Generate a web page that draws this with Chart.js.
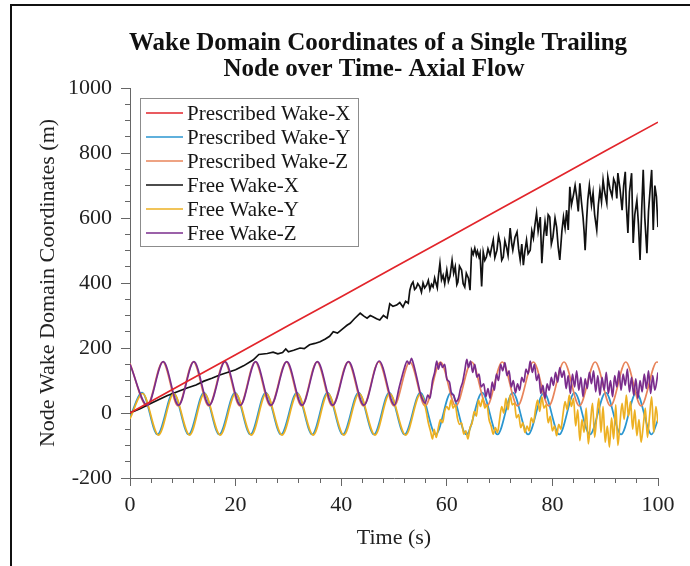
<!DOCTYPE html>
<html>
<head>
<meta charset="utf-8">
<script src="https://cdn.jsdelivr.net/npm/chart.js@4/dist/chart.umd.min.js"></script>
<style>
  html, body { margin: 0; padding: 0; background: #fff; }
  #wrap { position: relative; width: 690px; height: 566px; overflow: hidden; }
  #frame { position: absolute; left: 10px; top: 4px; right: -4px; bottom: -4px; border-top: 2px solid #111; border-left: 2px solid #111; pointer-events: none; }
</style>
</head>
<body>
<div id="wrap">
  <canvas id="wake-chart" width="690" height="566"></canvas>
  <div id="frame"></div>
</div>
<script>
const titleLines = ['Wake Domain Coordinates of a Single Trailing', 'Node over Time- Axial Flow'];
const xTitle = 'Time (s)';
const yTitle = 'Node Wake Domain Coordinates (m)';
const seriesNames = ['Prescribed Wake-X', 'Prescribed Wake-Y', 'Prescribed Wake-Z', 'Free Wake-X', 'Free Wake-Y', 'Free Wake-Z'];
const seriesColors = ['#e2252b', '#2a96d0', '#e8845a', '#111111', '#edb022', '#7a2c8c'];

// prescribed wake
const prescXTime = [0, 10, 20, 30, 40, 50, 60, 70, 80, 90, 100];
const prescXVal = [0, 90, 179, 269, 358, 448, 537, 627, 716, 806, 895];

const prescYTime = [0, 2.3, 5.2, 8.2, 11.1, 14.0, 16.9, 19.9, 22.8, 25.7, 28.6, 31.6, 34.5, 37.4, 40.3, 43.3, 46.2, 49.1,
  52.0, 55.0, 57.9, 60.8, 63.7, 66.7, 69.6, 72.5, 75.4, 78.4, 81.3, 84.2, 87.1, 90.1, 93.0, 95.9, 98.8, 100];
const prescYVal = [-12, 63, -66, 63, -66, 63, -66, 63, -66, 63, -66, 63, -66, 63, -66, 63, -66, 63,
  -66, 63, -66, 63, -66, 63, -66, 63, -66, 63, -66, 63, -66, 63, -66, 63, -66, -20];

const prescZTime = [0, 3.2, 6.2, 9.1, 12.0, 14.9, 17.9, 20.8, 23.7, 26.6, 29.6, 32.5, 35.4, 38.3, 41.3, 44.2, 47.1, 50.0,
  53.0, 55.9, 58.8, 61.7, 64.7, 67.6, 70.5, 73.4, 76.4, 79.3, 82.2, 85.1, 88.1, 91.0, 93.9, 96.8, 99.8, 100];
const prescZVal = [152, 22, 157, 22, 157, 22, 157, 22, 157, 22, 157, 22, 157, 22, 157, 22, 157, 22,
  157, 22, 157, 22, 157, 22, 157, 22, 157, 22, 157, 22, 157, 22, 157, 22, 157, 156];

// free wake
const freeXTime = [0, 2, 4.4, 7, 10.8, 12.5, 14, 15.5, 17, 20, 21.5, 23.3, 24.4, 26, 27.1, 28, 28.9, 29.5, 30, 31, 32.2, 33, 34, 35, 36,
  37, 37.8, 38.5, 39.3, 40.5, 41.1, 41.7, 42.5, 43.6, 44.3, 44.9, 45.5, 46.0, 46.7, 47.3, 48.0, 48.7, 49.2, 49.8, 50.5, 51.1, 51.7,
  52.2, 52.7,
  53.0, 53.3, 53.6, 53.9, 54.2, 54.5, 54.9, 55.2, 55.5, 55.8, 56.2, 56.5, 56.8, 57.1, 57.4, 57.7, 57.9, 58.2, 58.4, 58.7,
  59.0, 59.3, 59.6, 60.0, 60.3, 60.6, 61.0, 61.3, 61.6, 61.9, 62.1, 62.4, 62.8, 63.1, 63.4, 63.7, 64.1, 64.4, 64.7, 65.0,
  65.3, 65.6, 65.8, 66.1, 66.3, 66.6, 66.9, 67.2, 67.5, 67.8, 68.2, 68.5, 68.8, 69.1, 69.5, 69.8, 70.1, 70.4, 70.7, 71.0,
  71.3, 71.6, 72.0, 72.3, 72.5, 72.9, 73.3, 73.6, 73.9, 74.2, 74.5, 74.8, 75.1, 75.4, 75.8, 76.1, 76.4, 76.7, 77.0, 77.3,
  77.7, 78.0, 78.3, 78.6, 78.9, 79.2, 79.5, 79.8, 80.1, 80.5, 80.8, 81.1, 81.4, 81.8, 82.1, 82.4, 82.7, 83.0, 83.3, 83.6,
  84.0, 84.3, 84.6, 84.9, 85.2, 85.5, 85.8, 86.0, 86.2, 86.5, 86.7, 87.0, 87.4, 87.7, 88.0, 88.4, 88.7, 89.0, 89.3, 89.6,
  89.9, 90.3, 90.5, 90.9, 91.3, 91.6, 91.9, 92.2, 92.4, 92.8, 93.2, 93.5, 93.8, 94.0, 94.3, 94.6, 95.0, 95.3, 95.6, 96.0,
  96.3, 96.6, 96.9, 97.2, 97.5, 97.9, 98.2, 98.5, 98.8, 99.1, 99.4, 99.7, 100];
const freeXVal = [0, 14, 33, 53, 77, 86, 98, 107, 117, 133, 145, 163, 180, 183, 187, 182, 186, 197, 188, 193, 200, 198, 210, 214, 219,
  228, 236, 250, 246, 262, 270, 276, 290, 307, 298, 292, 300, 296, 290, 286, 300, 292, 336, 328, 332, 340, 326,
  344, 338,
  378, 395, 403, 380, 385, 398, 388, 372, 400, 385, 394, 408, 380, 396, 388, 415, 402, 385, 420, 461,
  410, 424, 398, 440, 405, 420, 470, 430, 450, 395, 403, 452, 440, 398, 388, 430, 415, 378, 501, 488,
  507, 485, 498, 480, 492, 389, 495, 470, 480, 505, 486, 510, 532, 478, 501, 545, 523, 470, 480, 530,
  511, 485, 569, 520, 501, 540, 557, 505, 471, 520, 455, 500, 532, 490, 501, 560, 538, 580, 615, 560,
  603, 461, 540, 588, 545, 610, 603, 520, 541, 600, 572, 510, 471, 560, 603, 570, 624, 563, 696, 640,
  672, 700, 666, 620, 707, 650, 603, 560, 501, 600, 655, 700, 640, 677, 610, 563, 640, 686, 650, 717,
  680, 646, 726, 690, 666, 720, 707, 660, 738, 690, 624, 700, 742, 640, 554, 680, 738, 523, 610, 655,
  580, 471, 620, 748, 600, 492, 620, 686, 748, 563, 700, 666, 572];

const freeYTime = [0, 2.4, 5.4, 8.3, 11.3, 14.1, 17.1, 20.0, 23.0, 25.8, 28.8, 31.7, 34.7, 37.5, 40.5, 43.4, 46.4, 49.2, 52.2, 55.0,
  55.6, 56.1, 56.5, 56.9, 57.3, 57.6, 58.0, 58.4, 58.8, 59.2, 59.6, 60.0, 60.4, 60.8, 61.2, 61.6, 62.0, 62.4, 62.8, 63.2, 63.6,
  64.0, 64.4, 64.8, 65.2, 65.6, 66.0, 66.4, 66.8, 67.2, 67.6, 68.0, 68.4, 68.8, 69.2, 69.6, 70.0, 70.4, 70.8, 71.2, 71.6, 72.0,
  72.4, 72.8, 73.2, 73.6, 74.0, 74.4, 74.8, 75.2, 75.6, 76.0, 76.4, 76.8, 77.2, 77.6, 78.0, 78.4, 78.8, 79.2, 79.6, 80.0, 80.4,
  80.8, 81.2, 81.6, 82.0, 82.4, 82.8, 83.2, 83.6, 84.0, 84.4, 84.8, 85.2, 85.6, 86.0, 86.4, 86.8, 87.2, 87.6, 88.0, 88.4, 88.8,
  89.2, 89.6, 90.0, 90.4, 90.8, 91.2, 91.6, 92.0, 92.4, 92.8, 93.2, 93.6, 94.0, 94.4, 94.8, 95.2, 95.6, 96.0, 96.4, 96.8, 97.2,
  97.6, 98.0, 98.4, 98.8, 99.2, 99.6, 100];
const freeYVal = [-18, 60, -68, 60, -68, 60, -68, 60, -68, 60, -68, 60, -68, 60, -68, 60, -68, 60, -68, 58,
  40, 5, -30, -55, -80, -50, -75, -45, -20, -30, 5, 20, 10, 40, 15, 25, -15, -35, -30, -65, -55,
  -80, -45, -30, 5, -10, 40, 20, 45, 15, 25, -20, -40, -65, -45, -60, -20, 20, 0, 45, 10, 55,
  25, 30, -15, -5, -45, -30, -60, -40, -55, -15, -30, 10, 40, 5, 50, 15, 25, -30, -10, -55, -40,
  -70, -35, -50, -5, 35, 10, 55, 20, 45, -40, 10, -85, -20, -60, 15, -95, -30, 30, -75, -10, 45,
  -60, 20, -90, -40, -105, -15, -80, 25, -100, -30, 30, -20, 55, -10, 35, -50, 10, -70, -20, -90, -40,
  15, -75, -10, 50, -60, 20, -30];

const freeZTime = [0, 3.3, 6.3, 9.2, 12.1, 15.0, 18.0, 20.9, 23.8, 26.7, 29.7, 32.6, 35.5, 38.4, 41.4, 44.3, 47.2, 50.1,
  51.0, 52.0, 52.5, 52.9, 53.3, 53.7, 54.3, 55.0, 55.5, 55.9, 56.4, 56.8, 57.3, 57.7, 58.1, 58.4, 58.8, 59.2, 59.6, 60.0,
  60.5, 60.9, 61.3, 61.7, 62.2, 62.6, 63.0, 63.4, 63.8, 64.1, 64.5, 64.9, 65.3, 65.7, 66.1, 66.5, 67.0, 67.4, 67.8, 68.2,
  68.6, 69.0, 69.4, 69.8, 70.2, 70.6, 71.0, 71.4, 71.8, 72.2, 72.6, 73.0, 73.4, 73.8, 74.2, 74.6, 75.0, 75.4, 75.8, 76.2,
  76.6, 77.0, 77.4, 77.8, 78.2, 78.6, 79.0, 79.4, 79.8, 80.2, 80.6, 81.0, 81.4, 81.8, 82.2, 82.6, 83.0, 83.4, 83.8, 84.2,
  84.6, 85.0, 85.4, 85.8, 86.2, 86.6, 87.0, 87.4, 87.8, 88.2, 88.6, 89.0, 89.4, 89.8, 90.2, 90.6, 91.0, 91.4, 91.8, 92.2,
  92.6, 93.0, 93.4, 93.8, 94.2, 94.6, 95.0, 95.4, 95.8, 96.2, 96.6, 97.0, 97.4, 97.8, 98.2, 98.6, 99.0, 99.4, 100];
const freeZVal = [150, 24, 158, 24, 158, 24, 158, 24, 158, 24, 158, 24, 158, 24, 158, 24, 160, 24,
  80, 140, 160, 150, 168, 150, 110, 60, 38, 30, 55, 45, 100, 125, 160, 135, 155, 140, 150, 105,
  95, 60, 55, 35, 45, 75, 95, 130, 165, 140, 160, 125, 150, 110, 120, 80, 90, 50, 75, 45,
  95, 70, 120, 100, 150, 130, 155, 115, 130, 80, 100, 62, 90, 70, 110, 95, 135, 120, 160, 125,
  150, 100, 120, 60, 85, 45, 90, 70, 110, 85, 125, 95, 140, 110, 130, 75, 115, 60, 120, 80,
  130, 70, 110, 50, 105, 75, 125, 90, 130, 65, 115, 55, 110, 70, 125, 60, 100, 50, 115, 80,
  130, 70, 120, 85, 135, 65, 110, 55, 105, 45, 100, 65, 120, 75, 130, 60, 115, 70, 125];

// tick values that carry a label
const xLabelTicks = [0, 20, 40, 60, 80, 100];
const yLabelTicks = [-200, 0, 200, 400, 600, 800, 1000];

const pts = (ts, vs) => ts.map((t, i) => ({ x: t, y: vs[i] }));
const serif = "'Liberation Serif', 'Times New Roman', serif";

const titlePlugin = {
    id: 'titlePlugin',
    afterDraw(chart) {
        const ctx = chart.ctx;
        ctx.save();
        ctx.font = 'bold 25px ' + serif;
        ctx.fillStyle = '#111';
        ctx.textAlign = 'center';
        ctx.textBaseline = 'middle';
        ctx.fillText(titleLines[0], 378, 44);
        ctx.fillText(titleLines[1], 374, 70);
        ctx.restore();
    }
};

const legendPlugin = {
    id: 'legendPlugin',
    afterDatasetsDraw(chart) {
        const ctx = chart.ctx;
        const bx = 140, by = 98, bw = 218, bh = 148;
        ctx.save();
        ctx.fillStyle = '#fff';
        ctx.fillRect(bx, by, bw, bh);
        ctx.strokeStyle = '#8c8c8c';
        ctx.lineWidth = 1;
        ctx.strokeRect(bx + 0.5, by + 0.5, bw, bh);
        ctx.font = '21px ' + serif;
        ctx.textBaseline = 'middle';
        chart.data.datasets.forEach((ds, i) => {
            const cy = by + 15 + i * 24;
            ctx.strokeStyle = ds.borderColor;
            ctx.lineWidth = 1.5;
            ctx.beginPath();
            ctx.moveTo(bx + 6, cy);
            ctx.lineTo(bx + 43, cy);
            ctx.stroke();
            ctx.fillStyle = '#151515';
            ctx.fillText(ds.label, bx + 47, cy + 1);
        });
        ctx.restore();
    }
};

const allTimes = [prescXTime, prescYTime, prescZTime, freeXTime, freeYTime, freeZTime];
const allVals = [prescXVal, prescYVal, prescZVal, freeXVal, freeYVal, freeZVal];
const drawOrder = [0, 5, 4, 3, 2, 1];

const datasets = seriesNames.map((name, i) => ({
    label: name,
    data: pts(allTimes[i], allVals[i]),
    borderColor: seriesColors[i],
    backgroundColor: 'transparent',
    borderWidth: 1.7,
    pointRadius: 0,
    fill: false,
    order: drawOrder[i],
    tension: 0,
    cubicInterpolationMode: (i === 1 || i === 2 || i === 4 || i === 5) ? 'monotone' : 'default'
}));

const isMinor = (v, labels) => !labels.some(l => Math.abs(l - v) < 1e-6);

new Chart(document.getElementById('wake-chart').getContext('2d'), {
    type: 'line',
    data: { datasets: datasets },
    options: {
        responsive: false,
        animation: false,
        events: [],
        layout: { padding: { left: 0, top: 88, right: 32, bottom: 8 } },
        plugins: {
            legend: { display: false },
            tooltip: { enabled: false },
            title: { display: false }
        },
        scales: {
            x: {
                type: 'linear',
                min: 0,
                max: 100,
                afterFit: scale => { scale.height = 80; },
                ticks: {
                    stepSize: 4,
                    autoSkip: false,
                    maxRotation: 0,
                    padding: 6,
                    color: '#222',
                    font: { family: serif, size: 22 },
                    callback: v => isMinor(v, xLabelTicks) ? '' : String(v)
                },
                grid: {
                    drawOnChartArea: false,
                    drawTicks: true,
                    tickLength: 8,
                    tickColor: '#666',
                    tickBorderDash: ctx => isMinor(ctx.tick.value, xLabelTicks) ? [4, 8] : [],
                    tickBorderDashOffset: 0
                },
                border: { display: true, color: '#666', width: 1 },
                title: {
                    display: true,
                    text: xTitle,
                    color: '#222',
                    font: { family: serif, size: 22, lineHeight: 1.2 },
                    padding: { top: 0, bottom: 7 }
                }
            },
            y: {
                type: 'linear',
                min: -200,
                max: 1000,
                afterFit: scale => { scale.width = 130; },
                ticks: {
                    stepSize: 50,
                    autoSkip: false,
                    padding: 9,
                    color: '#222',
                    font: { family: serif, size: 22 },
                    callback: v => isMinor(v, yLabelTicks) ? '' : String(v)
                },
                grid: {
                    drawOnChartArea: false,
                    drawTicks: true,
                    tickLength: 9,
                    tickColor: '#666',
                    tickBorderDash: ctx => isMinor(ctx.tick.value, yLabelTicks) ? [5, 4] : [],
                    tickBorderDashOffset: ctx => isMinor(ctx.tick.value, yLabelTicks) ? 5 : 0
                },
                border: { display: true, color: '#666', width: 1 },
                title: {
                    display: true,
                    text: yTitle,
                    color: '#222',
                    font: { family: serif, size: 22, lineHeight: 1.2 },
                    padding: { top: 35, bottom: 0 }
                }
            }
        }
    },
    plugins: [titlePlugin, legendPlugin]
});
</script>
</body>
</html>
